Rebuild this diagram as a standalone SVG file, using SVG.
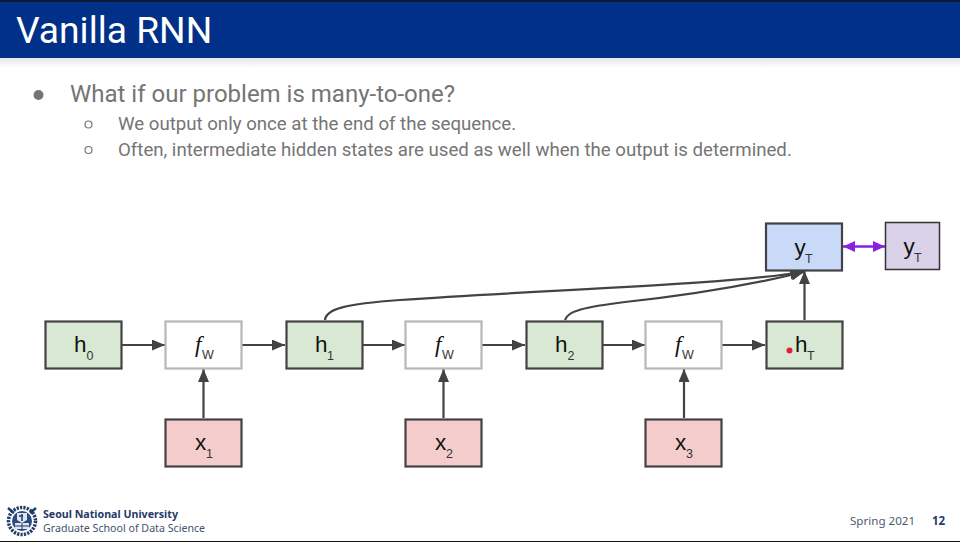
<svg xmlns="http://www.w3.org/2000/svg" width="960" height="542" viewBox="0 0 960 542">
<defs>
<linearGradient id="shade" x1="0" y1="0" x2="0" y2="1"><stop offset="0" stop-color="#000" stop-opacity=".1"/><stop offset="1" stop-color="#000" stop-opacity="0"/></linearGradient>
<marker id="arr" markerUnits="userSpaceOnUse" markerWidth="14" markerHeight="12" refX="13" refY="5.500" orient="auto"><path d="M0 0L13 5.500L0 11Z" fill="#434343"/></marker>
<marker id="pe" markerUnits="userSpaceOnUse" markerWidth="13" markerHeight="12" refX="12" refY="5.500" orient="auto"><path d="M0 0L12 5.500L0 11Z" fill="#8a20e0"/></marker>
<marker id="ps" markerUnits="userSpaceOnUse" markerWidth="13" markerHeight="12" refX="0" refY="5.500" orient="auto"><path d="M12 0L0 5.500L12 11Z" fill="#8a20e0"/></marker>
</defs>
<style>
text{font-family:Roboto,"Liberation Sans",sans-serif}
.n{stroke:#434343;stroke-width:2.200}
.g{fill:#d8e8d3}.r{fill:#f4cccc}.w{fill:#fff;stroke:#b7b7b7}.b{fill:#c9daf8}.p{fill:#d9d2e9;stroke-width:1.500;stroke:#333}
.l{font-family:"Liberation Sans",Arial,sans-serif;font-size:22.500px;fill:#111}
.s{font-family:"Liberation Sans",Arial,sans-serif;font-size:12.500px;fill:#333}
.f{font-family:"Liberation Serif",serif;font-style:italic;font-size:23px;fill:#111}
.c{fill:none;stroke:#434343;stroke-width:2.200}
.h1{font-size:24px;fill:#757575}.h2{font-size:18.650px;fill:#757575}
.ft{font-family:"Noto Sans",sans-serif}
</style>
<rect width="960" height="542" fill="#fff"/>
<g id="header">
<rect y="0" width="960" height="58" fill="#003087"/>
<rect y="0" width="960" height="2" fill="#0a1a3a"/>
<rect y="58" width="960" height="10" fill="url(#shade)"/>
<text x="16" y="43" font-size="37.200" fill="#fff">Vanilla RNN</text>
</g>
<g id="body">
<circle cx="38.500" cy="95" r="5" fill="#757575"/>
<text class="h1" x="70" y="102">What if our problem is many-to-one?</text>
<circle cx="88.500" cy="124.500" r="3.500" fill="none" stroke="#757575" stroke-width="1.200"/>
<text class="h2" x="118" y="130">We output only once at the end of the sequence.</text>
<circle cx="88.500" cy="150" r="3.500" fill="none" stroke="#757575" stroke-width="1.200"/>
<text class="h2" x="118" y="156">Often, intermediate hidden states are used as well when the output is determined.</text>
</g>
<g id="connectors">
<path class="c" marker-end="url(#arr)" d="M122 345H165"/>
<path class="c" marker-end="url(#arr)" d="M242 345H285"/>
<path class="c" marker-end="url(#arr)" d="M363 345H405"/>
<path class="c" marker-end="url(#arr)" d="M482 345H525"/>
<path class="c" marker-end="url(#arr)" d="M603 345H645"/>
<path class="c" marker-end="url(#arr)" d="M722 345H765"/>
<path class="c" marker-end="url(#arr)" d="M203.500 418V369"/>
<path class="c" marker-end="url(#arr)" d="M443.500 418V369"/>
<path class="c" marker-end="url(#arr)" d="M684 418V369"/>
<path class="c" marker-end="url(#arr)" d="M804.500 320V271"/>
<path class="c" marker-end="url(#arr)" d="M325 320C326 309 345 304 400 300C560 289 720 285 803 272"/>
<path class="c" marker-end="url(#arr)" d="M565 320C567 311 585 307 625 302C690 295 750 285 804 272"/>
<path fill="none" stroke="#8a20e0" stroke-width="2.500" marker-start="url(#ps)" marker-end="url(#pe)" d="M843 246.500H885"/>
</g>
<g id="h0"><rect class="n g" x="45.500" y="321.500" width="76" height="47"/><text class="l" x="74" y="352">h</text><text class="s" x="86.500" y="360">0</text></g>
<g id="f1"><rect class="n w" x="165.500" y="321.500" width="76" height="47"/><text class="f" x="195" y="352">f</text><text class="s" x="202" y="359">W</text></g>
<g id="h1"><rect class="n g" x="286.500" y="321.500" width="76" height="47"/><text class="l" x="315" y="352">h</text><text class="s" x="327" y="360">1</text></g>
<g id="f2"><rect class="n w" x="405.500" y="321.500" width="76" height="47"/><text class="f" x="435" y="352">f</text><text class="s" x="442" y="359">W</text></g>
<g id="h2"><rect class="n g" x="526.500" y="321.500" width="76" height="47"/><text class="l" x="555" y="352">h</text><text class="s" x="567.500" y="360">2</text></g>
<g id="f3"><rect class="n w" x="645.500" y="321.500" width="76" height="47"/><text class="f" x="675" y="352">f</text><text class="s" x="682" y="359">W</text></g>
<g id="hT"><rect class="n g" x="766.500" y="321.500" width="76" height="47"/><text class="l" x="795" y="352">h</text><text class="s" x="807" y="360">T</text></g>
<g id="x1"><rect class="n r" x="165.500" y="419.500" width="76" height="47"/><text class="l" x="195" y="450">x</text><text class="s" x="206" y="458">1</text></g>
<g id="x2"><rect class="n r" x="405.500" y="419.500" width="76" height="47"/><text class="l" x="435" y="450">x</text><text class="s" x="446" y="458">2</text></g>
<g id="x3"><rect class="n r" x="645.500" y="419.500" width="76" height="47"/><text class="l" x="675" y="450">x</text><text class="s" x="686" y="458">3</text></g>
<g id="yT"><rect class="n b" x="766" y="223.500" width="76" height="47"/><text class="l" x="794.500" y="255">y</text><text class="s" x="805" y="263">T</text></g>
<g id="yT2"><rect class="n p" x="885.500" y="222.500" width="54" height="47"/><text class="l" x="903.500" y="254">y</text><text class="s" x="914" y="262">T</text></g>
<circle id="pointer" cx="789.500" cy="350.500" r="3" fill="#e0203a"/>
<g id="footer">
<g id="logo" fill="none" stroke="#1f3a68">
<circle cx="22" cy="521" r="13.500" stroke-width="3.500" stroke-dasharray="2.200 1.200"/>
<circle cx="22" cy="521" r="10" fill="#2a4a80" stroke="none"/>
<rect x="15" y="523" width="14" height="6" fill="#dfe5ee" stroke="none"/>
<path d="M22 523v6M15 526h14" stroke-width="1"/>
<path d="M17 513h10v7l-5 3-5-3z" fill="#dfe5ee" stroke="none"/>
<path d="M22 514v7M19 516h4" stroke-width="1.500"/>
<path d="M8 508l6 5M36 508l-6 5" stroke-width="2.500"/>
</g>
<text class="ft" x="43" y="518" font-size="10.650" font-weight="700" fill="#1f3a68">Seoul National University</text>
<text class="ft" x="43" y="532" font-size="10.650" fill="#44546a">Graduate School of Data Science</text>
<text class="ft" x="850" y="525" font-size="11.600" fill="#4a5a70">Spring 2021</text>
<text class="ft" x="932" y="525" font-size="11.500" font-weight="700" fill="#1f3a68">12</text>
<rect y="541" width="960" height="1" fill="#111"/>
</g>
</svg>
